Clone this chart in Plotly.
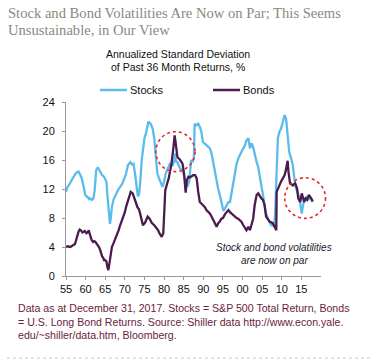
import plotly.graph_objects as go

# ---------------- data ----------------
stock_years = [1955.0,1955.3,1955.7,1956.1,1956.5,1957.0,1957.4,1957.8,1958.2,1958.6,1959.0,1959.3,1959.6,1959.9,
 1960.2,1960.5,1960.9,1961.2,1961.6,1962.0,1962.3,1962.5,1962.7,1963.1,1963.4,1963.7,1964.2,1964.7,1965.0,1965.3,
 1965.6,1965.8,1966.0,1966.2,1966.4,1966.7,1967.1,1967.5,1968.0,1968.4,1968.8,1969.2,1969.7,1970.0,1970.3,1970.8,
 1971.1,1971.4,1971.8,1972.2,1972.6,1973.0,1973.3,1973.6,1973.9,1974.3,1974.7,1975.0,1975.4,1975.7,1976.0,1976.3,
 1976.6,1977.1,1977.5,1977.9,1978.3,1978.7,1979.2,1979.6,1980.0,1980.4,1980.9,1981.5,1982.2,1982.6,1982.8,1983.0,
 1983.4,1984.1,1984.7,1985.3,1985.9,1986.4,1986.7,1986.9,1987.3,1987.6,1987.8,1988.2,1988.7,1989.1,1989.5,1989.9,
 1990.3,1990.8,1991.2,1991.7,1992.1,1992.5,1993.0,1993.4,1993.8,1994.2,1994.7,1995.1,1995.5,1996.0,1996.4,1996.8,
 1997.2,1997.6,1998.1,1998.5,1998.9,1999.3,1999.7,2000.2,2000.6,2001.0,2001.5,2001.9,2002.3,2002.7,2003.1,2003.6,
 2004.0,2004.4,2004.8,2005.2,2005.6,2006.0,2006.5,2007.0,2007.3,2007.7,2008.0,2008.3,2008.6,2009.0,2009.4,2009.8,
 2010.3,2010.7,2011.1,2011.5,2011.9,2012.4,2012.8,2013.2,2013.6,2014.0,2014.5,2014.9,2015.1,2015.5,2015.9,2016.4,
 2017.0,2017.5,2017.9]
stock_vol = [11.6,12.2,12.5,12.9,13.2,13.8,14.1,14.3,14.4,14.0,13.5,12.8,12.0,11.2,
 11.0,10.9,10.6,10.7,10.5,10.7,11.8,13.5,14.6,15.0,14.7,14.6,13.9,13.7,13.3,13.0,
 10.9,9.5,8.6,7.2,7.9,9.5,10.5,11.0,11.4,12.0,12.3,12.6,13.2,13.6,14.1,15.3,
 15.5,15.7,15.4,15.5,14.1,12.3,11.0,11.2,12.8,16.0,18.3,19.0,19.7,20.6,21.3,21.1,
 21.0,20.3,19.0,16.4,14.1,13.5,12.8,12.3,13.0,14.1,14.8,15.5,15.3,16.0,16.9,15.8,
 15.7,14.8,14.6,13.5,12.3,13.0,15.0,16.0,15.7,16.5,21.0,20.8,21.0,20.6,19.9,18.5,
 18.3,18.0,17.8,17.6,16.9,15.7,14.5,13.0,12.0,11.2,9.8,9.0,9.3,9.8,10.2,10.2,
 11.6,12.5,14.4,15.5,16.2,16.8,17.1,17.6,18.0,18.7,19.0,17.6,18.3,17.8,16.7,15.7,
 15.0,13.9,12.5,11.2,9.8,8.6,7.9,7.3,7.0,7.0,6.8,8.5,13.5,19.0,19.9,20.3,
 21.3,22.2,21.7,19.4,17.1,16.2,15.3,13.5,12.1,11.6,10.7,9.3,8.6,10.0,10.7,10.9,
 10.7,10.5,10.2]

bond_years = [1955.0,1955.5,1956.1,1956.6,1957.0,1957.3,1957.6,1958.0,1958.2,1958.5,1958.8,1959.2,1959.5,1959.8,
 1960.2,1960.5,1960.8,1961.2,1961.5,1961.9,1962.2,1962.5,1962.8,1963.1,1963.4,1963.7,1964.0,1964.2,1964.5,1964.7,
 1965.0,1965.3,1965.6,1965.8,1966.0,1966.3,1966.7,1967.1,1967.5,1968.0,1968.4,1968.8,1969.2,1969.7,1970.0,1970.3,
 1970.6,1970.9,1971.2,1971.5,1972.0,1972.3,1972.6,1972.9,1973.2,1973.6,1973.9,1974.2,1974.6,1975.2,1975.8,1976.3,
 1976.9,1977.5,1978.1,1978.5,1978.8,1979.1,1979.4,1979.8,1980.1,1980.3,1980.8,1981.2,1981.5,1981.9,1982.4,1982.7,
 1982.9,1983.0,1983.2,1983.4,1984.1,1984.7,1985.1,1985.3,1985.5,1985.8,1986.2,1986.6,1987.0,1987.4,1987.9,1988.3,
 1988.7,1989.1,1989.5,1989.9,1990.4,1990.8,1991.2,1991.7,1992.1,1992.5,1992.9,1993.4,1993.8,1994.2,1994.6,1995.0,
 1995.5,1996.0,1996.4,1996.8,1997.2,1997.6,1998.1,1998.5,1998.9,1999.3,1999.7,2000.2,2000.6,2001.0,2001.3,2001.5,
 2001.9,2002.3,2002.7,2003.1,2003.6,2004.0,2004.4,2004.8,2005.2,2005.6,2006.0,2006.5,2006.9,2007.3,2007.7,2008.0,
 2008.3,2008.6,2008.7,2009.0,2009.4,2009.8,2010.3,2010.7,2011.0,2011.3,2011.5,2011.7,2012.1,2012.8,2013.4,2013.9,
 2014.2,2014.7,2015.1,2015.7,2016.1,2016.5,2016.9,2017.5,2017.9]
bond_vol = [4.0,4.1,4.0,4.2,4.3,4.4,5.0,5.8,6.1,6.4,6.3,6.0,6.1,6.2,
 5.9,6.0,6.3,5.4,5.0,4.7,4.8,4.7,4.5,4.3,4.0,3.6,3.0,2.7,2.5,2.2,
 2.2,2.0,1.1,0.8,1.5,2.4,4.0,4.5,5.0,5.6,6.3,7.0,7.6,8.2,8.8,9.5,
 10.0,10.5,11.1,11.6,11.4,11.0,10.5,10.0,9.5,9.2,8.6,8.0,7.0,7.4,8.2,7.9,
 7.3,7.0,6.6,6.3,5.9,5.6,5.4,5.9,8.6,11.8,12.8,13.5,14.4,15.5,17.8,19.4,
 18.6,18.0,16.8,16.4,16.0,15.5,14.1,11.8,11.5,13.2,13.7,13.6,13.8,13.9,13.9,13.5,
 11.6,10.2,10.0,9.8,9.5,9.1,8.9,8.6,8.2,7.7,7.2,6.8,7.3,7.5,7.9,8.0,
 8.5,8.9,9.1,8.8,8.6,8.4,8.2,8.0,7.9,7.7,7.5,7.0,6.6,6.3,6.6,6.8,
 6.3,7.0,7.9,9.8,11.2,11.4,11.0,10.7,10.5,9.8,8.2,7.8,7.5,7.4,7.3,7.0,
 6.5,6.3,11.6,12.1,12.5,13.0,13.4,13.9,14.5,15.7,15.9,14.4,12.8,12.5,12.8,12.1,
 10.7,10.2,11.4,10.2,10.7,10.5,11.2,10.7,10.3]

x_tick_vals = [1955,1960,1965,1970,1975,1980,1985,1990,1995,2000,2005,2010,2015]
x_tick_text = ["55","60","65","70","75","80","85","90","95","00","05","10","15"]
y_tick_vals = [0,4,8,12,16,20,24]

series_names = ["Stocks", "Bonds"]
title_lines = ["Stock and Bond Volatilities Are Now on Par; This Seems",
               "Unsustainable, in Our View"]
subtitle_lines = ["Annualized Standard Deviation", "of Past 36 Month Returns, %"]
note_lines = ["Stock and bond volatilities", "are now on par"]
footnote_lines = ["Data as at December 31, 2017. Stocks = S&P 500 Total Return, Bonds",
                  "= U.S. Long Bond Returns. Source: Shiller data http://www.econ.yale.",
                  "edu/~shiller/data.htm, Bloomberg."]

# ---------------- styling / layout ----------------
W, H = 383, 364
ML, MR, MT, MB = 66, 62, 102, 88
PW, PH = W - ML - MR, H - MT - MB
XR = [1955, 2020]
YR = [0, 24]

STOCK_C = "#5bbcec"
BOND_C = "#4a1c4e"

def px2x(px):
    return (px - ML) / PW

def py2y(py):
    return (H - MB - py) / PH

def dx2paper(x):
    return (x - XR[0]) / (XR[1] - XR[0])

def dy2paper(y):
    return (y - YR[0]) / (YR[1] - YR[0])

fig = go.Figure()
fig.add_trace(go.Scatter(x=stock_years, y=stock_vol, mode="lines", name=series_names[0],
                         line=dict(color=STOCK_C, width=2.3), showlegend=False))
fig.add_trace(go.Scatter(x=bond_years, y=bond_vol, mode="lines", name=series_names[1],
                         line=dict(color=BOND_C, width=2.3), showlegend=False))

shapes = []
annotations = []

# dotted red circles (centre in data units, radius in data units)
circles = [(1982.9, 17.15, 5.0, 2.75), (2015.95, 10.75, 5.2, 2.8)]
for cx, cy, rx, ry in circles:
    shapes.append(dict(type="circle", xref="paper", yref="paper",
                       x0=dx2paper(cx - rx), x1=dx2paper(cx + rx),
                       y0=dy2paper(cy - ry), y1=dy2paper(cy + ry),
                       line=dict(color="#e8262a", width=1.6, dash="dot"), layer="above"))

# legend (manual)
for (x0, x1, tx, name, col) in [(100, 127, 128, series_names[0], STOCK_C),
                                (213, 240, 241, series_names[1], BOND_C)]:
    shapes.append(dict(type="line", xref="paper", yref="paper",
                       x0=px2x(x0), x1=px2x(x1), y0=py2y(90), y1=py2y(90),
                       line=dict(color=col, width=2.5)))
    annotations.append(dict(text=name, xref="paper", yref="paper", x=px2x(tx), y=py2y(90),
                            xanchor="left", yanchor="middle", showarrow=False,
                            font=dict(family="Liberation Sans, Arial", size=11, color="#111")))

# separator dotted line
shapes.append(dict(type="line", xref="paper", yref="paper",
                   x0=px2x(7), x1=px2x(373), y0=py2y(358), y1=py2y(358),
                   line=dict(color="#c8c8c8", width=1.2, dash="dot")))

# title
for i, (t, yc) in enumerate(zip(title_lines, [13, 30])):
    annotations.append(dict(text=t, xref="paper", yref="paper", x=px2x(6), y=py2y(yc),
                            xanchor="left", yanchor="middle", showarrow=False,
                            font=dict(family="Liberation Serif, Times New Roman, serif", size=14.6,
                                      color="#8d8780")))
# subtitle
for t, yc in zip(subtitle_lines, [54, 67]):
    annotations.append(dict(text=t, xref="paper", yref="paper", x=px2x(178), y=py2y(yc),
                            xanchor="center", yanchor="middle", showarrow=False,
                            font=dict(family="Liberation Sans, Arial", size=10.5, color="#111")))
# note
for t, yc in zip(note_lines, [247, 260]):
    annotations.append(dict(text="<i>" + t + "</i>", xref="paper", yref="paper", x=px2x(274), y=py2y(yc),
                            xanchor="center", yanchor="middle", showarrow=False,
                            font=dict(family="Liberation Sans, Arial", size=10, color="#1a1a2e")))
# footnote
for t, yc in zip(footnote_lines, [308, 321.5, 335]):
    annotations.append(dict(text=t, xref="paper", yref="paper", x=px2x(16), y=py2y(yc),
                            xanchor="left", yanchor="middle", showarrow=False,
                            font=dict(family="Liberation Sans, Arial", size=10.6, color="#6a1c3c")))

fig.update_layout(
    width=W, height=H,
    margin=dict(l=ML, r=MR, t=MT, b=MB, pad=0),
    paper_bgcolor="white", plot_bgcolor="white",
    shapes=shapes, annotations=annotations,
    xaxis=dict(range=XR, tickvals=x_tick_vals, ticktext=x_tick_text, showgrid=False, zeroline=False,
               showline=True, linecolor="#9a9a9a", linewidth=1, ticks="outside", ticklen=3,
               tickcolor="#9a9a9a", tickfont=dict(family="Liberation Sans, Arial", size=11, color="#111")),
    yaxis=dict(range=YR, tickvals=y_tick_vals, showgrid=False, zeroline=False,
               showline=True, linecolor="#9a9a9a", linewidth=1, ticks="outside", ticklen=3,
               ticklabelstandoff=5,
               tickcolor="#9a9a9a", tickfont=dict(family="Liberation Sans, Arial", size=11, color="#111")),
)

fig.write_html("out.html", config={"displayModeBar": False},
               post_script="document.body.style.margin='0px';document.body.style.overflow='hidden';")
